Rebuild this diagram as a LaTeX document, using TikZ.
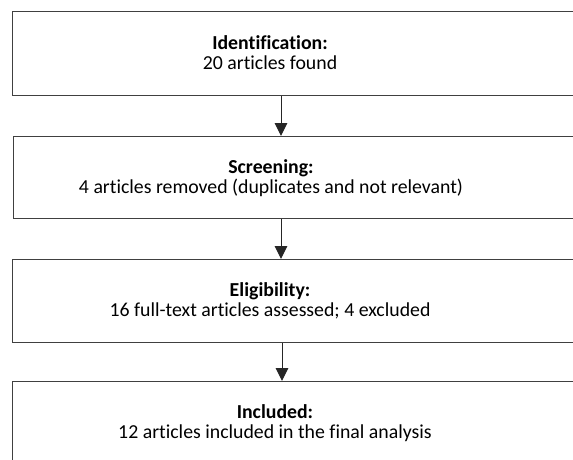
\documentclass[tikz,border=0pt]{standalone}
\usepackage{fontspec}
\setmainfont{Carlito}[Ligatures=NoCommon]
\usetikzlibrary{arrows.meta,positioning}

\begin{document}
\begin{tikzpicture}[x=1pt,y=-1pt]
  \tikzstyle{stage}=[rectangle, draw=black!75, line width=1.4pt, minimum width=600pt, anchor=north west, inner sep=0pt]
  \tikzstyle{txt}=[align=center, font=\fontsize{19.8}{20}\selectfont, inner sep=0pt]
  \tikzstyle{flow}=[-{Triangle[width=12.5pt,length=13pt]}, line width=1pt, black!85]

  \useasboundingbox (0,0) rectangle (573,459);
  \clip (0,0) rectangle (573,459);

  % Boxes
  \node[stage, minimum height=83.5pt] (b1) at (11.5,11) {};
  \node[stage, minimum height=82pt] (b2) at (13,136) {};
  \node[stage, minimum height=82.7pt] (b3) at (12,259) {};
  \node[stage, minimum height=83pt] (b4) at (12,381) {};

  % Texts
  \node[txt] (t1) at (270,53) {\textbf{Identification:}\\20 articles found};
  \node[txt] (t2) at (271,178) {\textbf{Screening:}\\4 articles removed (duplicates and not relevant)};
  \node[txt] (t3) at (270,301) {\textbf{Eligibility:}\\16 full-text articles assessed; 4 excluded};
  \node[txt] (t4) at (275,423) {\textbf{Included:}\\12 articles included in the final analysis};

  % Arrows
  \coordinate (ax1) at (281,0);
  \coordinate (ax2) at (282,0);
  \draw[flow] (b1.south -| ax1) -- (b2.north -| ax1);
  \draw[flow] (b2.south -| ax1) -- (b3.north -| ax1);
  \draw[flow] (b3.south -| ax2) -- (b4.north -| ax2);
\end{tikzpicture}
\end{document}
